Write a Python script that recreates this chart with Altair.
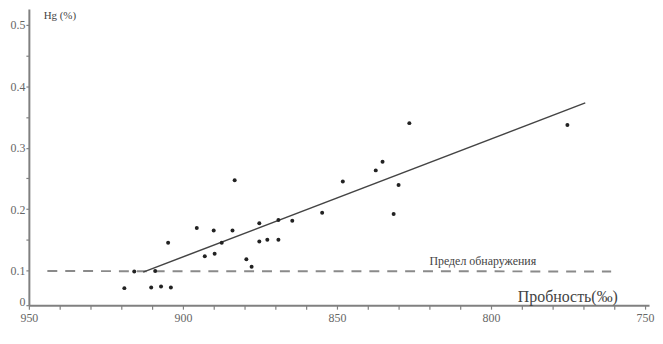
import altair as alt
import pandas as pd

# Scatter points: purity (‰) vs Hg (%)
purity = [919.0, 915.8, 910.3, 907.1, 903.9, 909.0, 904.8, 895.5, 892.9, 890.0,
          889.7, 887.4, 883.9, 883.2, 879.4, 877.7, 875.2, 875.2, 872.6, 869.0,
          869.0, 864.5, 854.8, 848.1, 837.4, 835.2, 830.0, 831.6, 826.5, 775.2]
hg = [0.049, 0.097, 0.051, 0.054, 0.051, 0.098, 0.145, 0.169, 0.123, 0.165,
      0.127, 0.145, 0.165, 0.247, 0.118, 0.106, 0.177, 0.147, 0.150, 0.150,
      0.182, 0.181, 0.194, 0.245, 0.263, 0.277, 0.239, 0.192, 0.340, 0.337]

# Trend line endpoints
trend_x = [912.9, 769.4]
trend_y = [0.095, 0.373]

# Detection limit (dashed)
limit_x = [944.0, 761.0]
limit_y = [0.098, 0.097]

x_ticks = list(range(950, 745, -10))
y_ticks = [0, 0.1, 0.15, 0.2, 0.25, 0.3, 0.35, 0.4, 0.45, 0.5]

ann_text = ["Hg (%)", "Предел обнаружения", "Пробность(‰)"]
ann_x = [945.2, 820.0, 791.3]
ann_y = [0.515, 0.116, 0.023]
ann_size = [11, 12, 16]

pts = pd.DataFrame({"p": purity, "hg": hg})
trend = pd.DataFrame({"p": trend_x, "hg": trend_y})
limit = pd.DataFrame({"p": limit_x, "hg": limit_y})
ann = pd.DataFrame({"t": ann_text, "p": ann_x, "hg": ann_y, "s": ann_size})

xscale = alt.Scale(domain=[748.7, 950], reverse=True, nice=False, zero=False)
yscale = alt.Scale(domain=[0, 0.1, 0.526], range=[298, 263, 0], nice=False, zero=False)

xaxis = alt.Axis(
    values=x_ticks, title=None, grid=False, tickSize=4, labelOverlap=False,
    labelExpr="datum.value % 50 == 0 ? datum.label : ''",
    format="d", labelPadding=3, labelFlush=False)
yaxis = alt.Axis(
    values=y_ticks, title=None, grid=False, tickSize=3, labelOverlap=False,
    labelExpr="length(datum.label) <= 3 ? datum.label : ''",
    format="~g", labelPadding=1,
    labelOffset={"condition": {"test": "datum.value == 0", "value": -4}, "value": 0})

xenc = alt.X("p:Q", scale=xscale, axis=xaxis)
yenc = alt.Y("hg:Q", scale=yscale, axis=yaxis)

lline = alt.Chart(limit).mark_line(color="#8a8a8a", strokeWidth=2, strokeDash=[10, 8]).encode(x=xenc, y=yenc)
tline = alt.Chart(trend).mark_line(color="#444", strokeWidth=1.5).encode(x=xenc, y=yenc)
points = alt.Chart(pts).mark_point(filled=True, size=16, color="#222", opacity=1).encode(x=xenc, y=yenc)
texts = alt.Chart(ann).mark_text(align="left", baseline="middle", font="Liberation Serif", color="#444").encode(
    x=xenc, y=yenc, text="t:N", size=alt.Size("s:Q", scale=None, legend=None))

chart = alt.layer(lline, tline, points, texts).properties(
    width=624, height=298,
    autosize=alt.AutoSizeParams(type="none"),
    padding={"left": 21, "top": 0, "right": 6, "bottom": 30},
).configure_view(stroke=None).configure_axis(
    domainColor="#808080", domainWidth=2, tickColor="#808080", tickWidth=1.2,
    labelFont="Liberation Serif", labelFontSize=12, labelColor="#666",
)

chart.save("out.html", embed_options={"renderer": "svg", "actions": False})
